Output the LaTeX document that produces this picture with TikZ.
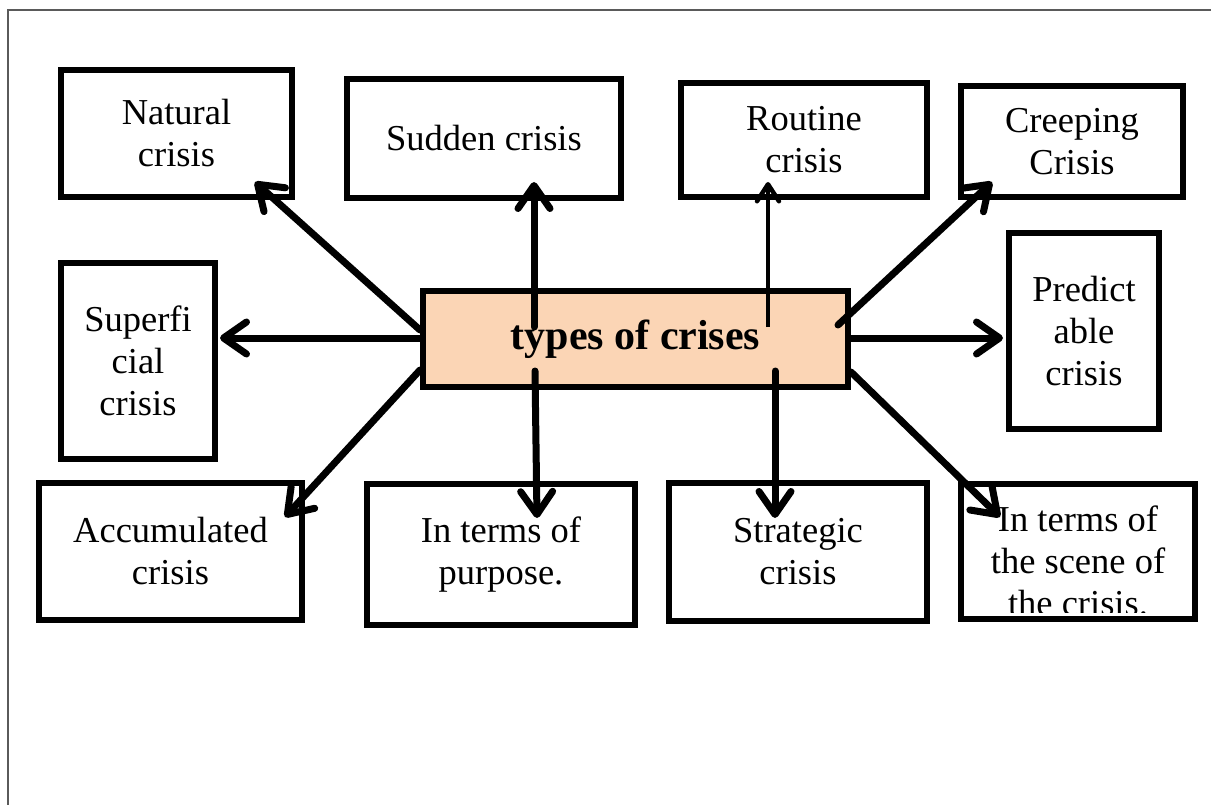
\documentclass[tikz,border=0pt]{standalone}
\usepackage{fontspec}
\setmainfont{Liberation Serif}
\usetikzlibrary{arrows.meta}
\definecolor{peach}{RGB}{251,213,181}
\definecolor{framegray}{RGB}{90,90,90}
\tikzset{
  box/.style={draw=black, line width=6pt, line join=miter, align=center, inner sep=0pt,
    font=\fontsize{36.5pt}{42pt}\selectfont},
  arr/.style={line width=7pt, line cap=round, -{Straight Barb[length=23pt,width=32pt,round]}},
  thinarr/.style={line width=4.5pt, -{Straight Barb[length=17pt,width=22pt,round]}},
}
\begin{document}
\begin{tikzpicture}[x=1pt,y=-1pt]
\useasboundingbox (0,0) rectangle (1211,805);
% outer frame
\draw[framegray, line width=1.5pt] (8,805) -- (8,10) -- (1211,10);

% boxes
\node[box, minimum width=231pt, minimum height=127pt] (nat) at (176.5,133.5) {Natural\\crisis};
\node[box, minimum width=274pt, minimum height=119pt] (sud) at (484,138.5) {Sudden crisis};
\node[box, minimum width=246pt, minimum height=114pt] (rou) at (804,140) {Routine\\crisis};
\node[box, minimum width=222pt, minimum height=111pt] (cre) at (1072,141.5) {Creeping\\Crisis};
\node[box, minimum width=154pt, minimum height=196pt] (sup) at (138,361) {Superfi\\cial\\crisis};
\node[box, fill=peach, minimum width=425pt, minimum height=96pt,
      font=\fontsize{42pt}{48pt}\selectfont\bfseries] (ctr) at (635.5,339) {types of crises};
\node[box, minimum width=150pt, minimum height=196pt] (pre) at (1084,331) {Predict\\able\\crisis};
\node[box, minimum width=263pt, minimum height=137pt] (acc) at (170.5,551.5) {Accumulated\\crisis};
\node[box, minimum width=268pt, minimum height=141pt] (pur) at (501,554.5) {In terms of\\purpose.};
\node[box, minimum width=258pt, minimum height=138pt] (str) at (798,552) {Strategic\\crisis};
\node[box, minimum width=234pt, minimum height=135pt] (sce) at (1078,551.5) {};
\begin{scope}
  \clip (950,470) rectangle (1210,612);
  \node[align=center, inner sep=0pt, font=\fontsize{36.5pt}{42pt}\selectfont] (scetext) at (1078,561)
    {In terms of\\the scene of\\the crisis.};
\end{scope}

% arrow end points
\coordinate (s1) at (420,330);  \coordinate (t1) at (255,182);
\coordinate (s2) at (534,327);  \coordinate (t2) at (534,182);
\coordinate (s3) at (768,327);  \coordinate (t3) at (768,182);
\coordinate (s4) at (838,325);  \coordinate (t4) at (992,182);
\coordinate (s5) at (420,338);  \coordinate (t5) at (220,338);
\coordinate (s6) at (851,338);  \coordinate (t6) at (1003,338);
\coordinate (s7) at (420,370);  \coordinate (t7) at (285,517);
\coordinate (s8) at (535,371);  \coordinate (t8) at (537,518);
\coordinate (s9) at (775,371);  \coordinate (t9) at (775,518);
\coordinate (s10) at (851,372); \coordinate (t10) at (1000,517);

\draw[arr] (s1) -- (t1);
\draw[arr] (s2) -- (t2);
\draw[thinarr] (s3) -- (t3);
\draw[arr] (s4) -- (t4);
\draw[arr] (s5) -- (t5);
\draw[arr] (s6) -- (t6);
\draw[arr] (s7) -- (t7);
\draw[arr] (s8) -- (t8);
\draw[arr] (s9) -- (t9);
\draw[arr] (s10) -- (t10);
\end{tikzpicture}
\end{document}
